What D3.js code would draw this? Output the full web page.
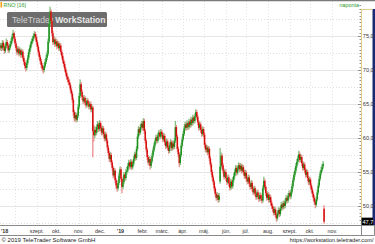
<!DOCTYPE html>
<html>
<head>
<meta charset="utf-8">
<script src="https://cdn.jsdelivr.net/npm/d3@7"></script>
<style>
	body { margin: 0; background: #fff; }
	svg { display: block; font-family: "Liberation Sans", Arial, sans-serif; }
</style>
</head>
<body>
<div id="graph"></div>
<script>
// RNO daily candles (one value per trading day)
var firstDay = "2018-07-11";

var opens = [
	73.3,73.6,73.2,74.0,73.4,72.8,73.5,74.1,73.6,72.9, 73.3,73.8,74.3,74.9,75.4,74.6,73.9,73.2,72.6,73.1,
	72.4,72.9,72.2,72.7,71.8,71.2,70.6,70.3,71.0,71.8, 72.6,73.2,73.8,74.2,74.6,75.0,75.3,74.8,74.1,73.4,
	72.6,71.9,71.3,70.7,70.2,70.0,70.6,71.2,71.8,72.4, 74.2,76.8,78.6,77.2,75.4,74.1,74.5,73.8,74.2,73.5,
	73.9,73.2,73.6,72.7,72.1,71.4,70.9,70.2,69.6,69.0, 68.6,68.2,67.8,67.1,66.5,65.6,63.8,62.9,63.4,62.7,
	63.3,64.6,66.2,67.9,66.8,66.0,65.4,65.9,65.2,64.8, 65.5,65.1,64.6,65.0,64.2,64.5,61.0,60.4,61.2,60.8,
	61.6,62.0,61.3,62.2,61.5,60.8,61.4,60.6,59.9,60.5, 59.6,58.6,57.8,56.9,57.5,56.4,55.6,54.5,55.2,53.8,
	53.0,52.6,53.4,54.5,55.4,54.0,52.8,53.5,54.6,54.1, 55.0,55.2,55.9,56.4,55.8,56.5,55.7,56.2,56.9,57.6,
	57.1,58.4,60.2,61.3,60.8,61.6,62.1,61.5,62.5,61.0, 59.6,58.3,57.2,56.4,56.9,55.9,56.6,57.4,58.2,58.9,
	59.5,60.1,59.6,60.4,60.8,60.2,60.9,60.5,59.8,60.3, 59.4,58.8,59.5,58.6,58.1,58.9,59.4,58.5,59.2,58.7,
	59.6,61.6,60.2,58.4,57.6,56.3,57.5,58.9,59.8,60.6, 61.4,62.0,61.5,62.2,61.6,62.4,61.9,62.7,62.2,63.0,
	62.5,63.2,63.8,63.1,62.3,61.5,62.0,61.2,60.6,61.3, 60.5,59.0,58.3,58.6,57.9,58.4,57.0,56.1,55.0,54.2,
	53.5,52.6,51.8,51.2,51.6,50.9,53.6,55.8,57.4,56.0, 55.2,54.3,55.0,54.1,53.5,54.2,53.3,52.7,53.6,52.9,
	53.8,54.4,55.0,55.6,54.9,55.5,56.0,55.4,55.9,55.2, 55.7,55.0,54.4,54.9,54.0,53.6,54.2,53.3,52.8,53.4,
	52.5,52.0,52.6,51.8,51.3,52.0,51.5,51.0,51.6,51.1, 50.8,52.6,53.7,52.8,51.9,51.2,51.7,50.9,51.3,50.5,
	50.0,49.6,49.0,49.5,48.7,48.2,48.9,49.4,48.8,49.6, 50.2,49.8,50.4,50.0,50.7,51.2,50.8,51.5,51.9,51.4,
	52.1,52.9,53.8,54.6,55.2,55.9,56.5,57.0,57.6,56.8, 57.2,56.3,55.6,56.1,55.3,54.6,55.0,54.1,53.5,53.9,
	53.0,52.4,51.8,51.2,50.6,50.2,51.0,52.0,53.0,54.0, 54.8,55.3,55.8,49.6
];
var highs = [
	73.9,73.8,74.3,74.2,73.6,73.8,74.5,74.3,73.8,73.6, 74.1,74.6,75.2,75.8,75.5,74.8,74.1,73.4,73.4,73.3,
	73.2,73.0,73.0,72.9,72.0,71.4,70.9,71.3,72.1,72.9, 73.5,74.1,74.5,74.9,75.3,75.6,75.5,75.0,74.3,73.6,
	72.8,72.1,71.5,70.9,70.5,70.9,71.5,72.1,72.7,74.5, 77.2,79.2,78.8,77.4,75.6,74.9,74.7,74.5,74.4,74.2,
	74.1,73.9,73.8,72.9,72.3,71.6,71.1,70.4,69.8,69.2, 68.9,68.5,68.0,67.3,66.7,65.8,64.0,63.7,63.6,63.6,
	64.9,66.5,68.5,68.1,67.0,66.2,66.2,66.1,65.4,65.8, 65.7,65.3,65.3,65.2,64.8,64.6,61.8,61.6,61.5,61.9,
	62.4,62.2,62.5,62.4,61.7,61.7,61.6,60.8,60.8,60.7, 59.8,58.8,58.0,57.8,57.7,56.6,55.8,55.5,55.4,54.0,
	53.2,53.7,54.8,55.7,55.6,54.2,53.8,54.9,54.8,55.3, 55.6,56.2,56.7,56.6,56.8,56.7,56.5,57.2,57.9,57.8,
	58.7,60.5,61.6,61.5,61.9,62.4,62.3,62.8,62.7,61.2, 59.8,58.5,57.4,57.2,57.1,56.9,57.7,58.5,59.2,59.8,
	60.4,60.3,60.7,61.1,61.0,61.2,61.1,60.7,60.6,60.5, 59.6,59.8,59.7,58.8,59.2,59.7,59.6,59.5,59.4,59.9,
	62.4,61.8,60.4,58.6,57.8,57.8,59.2,60.1,60.9,61.7, 62.3,62.2,62.5,62.4,62.7,62.6,63.0,62.9,63.3,63.2,
	63.5,64.1,64.0,63.3,62.5,62.3,62.2,61.4,61.6,61.5, 60.7,59.2,58.9,58.8,58.7,58.6,57.2,56.3,55.2,54.4,
	53.7,52.8,52.0,51.9,51.8,51.8,58.4,57.8,57.6,56.2, 55.4,55.3,55.2,54.3,54.5,54.4,53.5,53.9,53.8,54.1,
	54.7,55.3,55.9,55.8,55.8,56.3,56.2,56.2,56.1,56.0, 55.9,55.2,55.2,55.1,54.2,54.5,54.4,53.5,53.7,53.6,
	52.7,52.9,52.8,52.0,52.3,52.2,51.7,51.9,51.8,51.3, 52.9,54.2,53.9,53.0,52.1,52.0,51.9,51.6,51.5,50.7,
	50.2,49.8,49.8,49.7,48.9,49.2,49.7,49.6,49.9,50.5, 50.4,50.7,50.6,51.0,51.5,51.4,51.8,52.2,52.1,52.4,
	53.2,54.1,54.9,55.5,56.2,56.8,57.3,58.0,57.8,57.5, 57.4,56.5,56.4,56.3,55.5,55.3,55.2,54.3,54.2,54.1,
	53.2,52.6,52.0,51.4,50.8,51.3,52.3,53.3,54.3,55.1, 55.6,56.1,56.5,50.0
];
var lows = [
	73.0,72.9,73.0,73.1,72.5,72.6,73.3,73.3,72.6,72.7, 73.1,73.6,74.0,74.7,74.3,73.6,72.9,72.3,72.4,72.1,
	72.2,71.9,72.0,71.5,70.9,70.3,69.9,70.1,70.8,71.6, 72.4,73.0,73.6,74.0,74.4,74.8,74.5,73.8,73.1,72.3,
	71.6,71.0,70.4,69.9,69.6,69.8,70.4,71.0,71.6,72.2, 74.0,76.5,76.9,75.1,73.8,73.9,73.5,73.6,73.2,73.3,
	72.9,73.0,72.4,71.8,71.1,70.6,69.9,69.3,68.7,68.3, 67.9,67.5,66.8,66.2,65.3,63.4,62.5,62.6,62.4,62.5,
	63.1,64.4,66.0,66.5,65.7,65.1,65.2,64.9,64.5,64.6, 64.8,64.3,64.4,63.9,63.9,57.3,59.6,60.1,60.4,60.6,
	61.3,61.0,61.1,61.2,60.5,60.6,60.3,59.6,59.7,59.3, 58.3,57.5,56.6,56.7,56.1,55.3,54.2,54.3,53.5,52.6,
	52.2,52.4,53.2,54.3,53.7,52.0,52.6,53.3,53.8,53.9, 54.7,55.0,55.7,55.5,55.6,55.4,55.5,56.0,56.7,56.8,
	56.9,58.2,60.0,60.5,60.6,61.4,61.2,61.3,60.7,59.3, 58.0,56.9,56.1,56.1,55.5,55.7,56.4,57.2,58.0,58.7,
	59.3,59.3,59.4,60.2,59.9,60.0,60.2,59.5,59.6,59.1, 58.5,58.6,58.3,57.8,57.9,58.7,58.2,58.3,58.4,58.5,
	59.4,59.9,58.1,57.3,55.8,56.1,57.3,58.7,59.6,60.4, 61.2,61.2,61.3,61.3,61.4,61.6,61.7,61.9,62.0,62.2,
	62.3,63.0,62.8,62.0,61.2,61.3,60.9,60.3,60.4,60.2, 58.7,58.0,58.0,57.6,57.7,56.7,55.8,54.7,53.9,53.2,
	52.3,51.5,50.9,51.0,50.6,50.7,53.4,55.5,55.7,54.9, 54.0,54.1,53.8,53.2,53.3,53.0,52.4,52.5,52.6,52.7,
	53.6,54.2,54.8,54.6,54.7,55.3,55.1,55.2,54.9,55.0, 54.7,54.1,54.2,53.7,53.3,53.4,53.0,52.5,52.6,52.2,
	51.7,51.8,51.5,51.0,51.1,51.2,50.7,50.8,50.8,50.5, 50.6,52.4,52.5,51.6,50.9,51.0,50.6,50.7,50.2,49.7,
	49.3,48.7,48.8,48.4,47.8,48.0,48.7,48.5,48.6,49.4, 49.5,49.6,49.7,49.8,50.5,50.5,50.6,51.3,51.1,51.2,
	51.9,52.7,53.6,54.4,55.0,55.7,56.3,56.8,56.5,56.6, 56.0,55.3,55.4,55.0,54.3,54.4,53.8,53.2,53.3,52.7,
	52.1,51.5,50.9,50.3,49.8,50.0,50.8,51.8,52.8,53.8, 54.6,55.1,55.6,47.5
];
var closes = [
	73.6,73.2,74.0,73.4,72.8,73.5,74.1,73.6,72.9,73.3, 73.8,74.3,74.9,75.4,74.6,73.9,73.2,72.6,73.1,72.4,
	72.9,72.2,72.7,71.8,71.2,70.6,70.3,71.0,71.8,72.6, 73.2,73.8,74.2,74.6,75.0,75.3,74.8,74.1,73.4,72.6,
	71.9,71.3,70.7,70.2,70.0,70.6,71.2,71.8,72.4,74.2, 76.8,78.6,77.2,75.4,74.1,74.5,73.8,74.2,73.5,73.9,
	73.2,73.6,72.7,72.1,71.4,70.9,70.2,69.6,69.0,68.6, 68.2,67.8,67.1,66.5,65.6,63.8,62.9,63.4,62.7,63.3,
	64.6,66.2,67.9,66.8,66.0,65.4,65.9,65.2,64.8,65.5, 65.1,64.6,65.0,64.2,64.5,61.0,60.4,61.2,60.8,61.6,
	62.0,61.3,62.2,61.5,60.8,61.4,60.6,59.9,60.5,59.6, 58.6,57.8,56.9,57.5,56.4,55.6,54.5,55.2,53.8,53.0,
	52.6,53.4,54.5,55.4,54.0,52.8,53.5,54.6,54.1,55.0, 55.2,55.9,56.4,55.8,56.5,55.7,56.2,56.9,57.6,57.1,
	58.4,60.2,61.3,60.8,61.6,62.1,61.5,62.5,61.0,59.6, 58.3,57.2,56.4,56.9,55.9,56.6,57.4,58.2,58.9,59.5,
	60.1,59.6,60.4,60.8,60.2,60.9,60.5,59.8,60.3,59.4, 58.8,59.5,58.6,58.1,58.9,59.4,58.5,59.2,58.7,59.6,
	61.6,60.2,58.4,57.6,56.3,57.5,58.9,59.8,60.6,61.4, 62.0,61.5,62.2,61.6,62.4,61.9,62.7,62.2,63.0,62.5,
	63.2,63.8,63.1,62.3,61.5,62.0,61.2,60.6,61.3,60.5, 59.0,58.3,58.6,57.9,58.4,57.0,56.1,55.0,54.2,53.5,
	52.6,51.8,51.2,51.6,50.9,51.5,55.8,57.4,56.0,55.2, 54.3,55.0,54.1,53.5,54.2,53.3,52.7,53.6,52.9,53.8,
	54.4,55.0,55.6,54.9,55.5,56.0,55.4,55.9,55.2,55.7, 55.0,54.4,54.9,54.0,53.6,54.2,53.3,52.8,53.4,52.5,
	52.0,52.6,51.8,51.3,52.0,51.5,51.0,51.6,51.1,50.8, 52.6,53.7,52.8,51.9,51.2,51.7,50.9,51.3,50.5,50.0,
	49.6,49.0,49.5,48.7,48.2,48.9,49.4,48.8,49.6,50.2, 49.8,50.4,50.0,50.7,51.2,50.8,51.5,51.9,51.4,52.1,
	52.9,53.8,54.6,55.2,55.9,56.5,57.0,57.6,56.8,57.2, 56.3,55.6,56.1,55.3,54.6,55.0,54.1,53.5,53.9,53.0,
	52.4,51.8,51.2,50.6,50.2,51.0,52.0,53.0,54.0,54.8, 55.3,55.8,56.2,47.7
];

// axis labels
var monthLabels = ["'18", "szept.", "okt.", "nov.", "dec.", "'19", "febr.", "márc.", "ápr.", "máj.", "jún.", "júl.", "aug.", "szept.", "okt.", "nov."];
var yTicks = [50, 55, 60, 65, 70, 75];
var yTickLabels = ["50,0", "55,0", "60,0", "65,0", "70,0", "75,0"];
var lastLabel = "47,7";

(function() {
	var graph = {
		svg: null,
		width: 375,
		height: 244,
		left: 0,
		right: 361,
		top: 1,
		bottom: 225,
		slots: 371,        // trading days that fit across the plot
		xScale: null,
		yScale: null,
		up: "#1c8f1c",
		upWick: "#7fc27f",
		down: "#d60c0c",
		downWick: "#ee8c8c"
	};

	// weekdays starting at firstDay, one per candle slot
	var _tradingDays = function(n) {
		var days = [], d = new Date(firstDay + "T12:00:00");
		while (days.length < n) {
			var wd = d.getDay();
			if (wd !== 0 && wd !== 6) days.push(new Date(d));
			d.setDate(d.getDate() + 1);
		}
		return days;
	};

	var _initPhase = function() {
		graph.xScale = d3.scaleLinear()
			.domain([-0.5, graph.slots])
			.range([graph.left, graph.right]);
		graph.yScale = d3.scaleLinear()
			.domain([47.206, 80.147])
			.range([graph.bottom, graph.top]);

		graph.svg = d3.select("#graph").append("svg")
			.attr("width", graph.width)
			.attr("height", graph.height);
	};

	var _drawGrid = function(monthStarts) {
		var svg = graph.svg, y = graph.yScale, x = graph.xScale;
		var g = svg.append("g");

		// dotted half-step lines
		g.selectAll("line.minor").data(d3.range(47.5, 80, 5)).enter()
			.append("line")
			.attr("x1", graph.left).attr("x2", graph.right)
			.attr("y1", function(d) { return Math.round(y(d)) + 0.5; })
			.attr("y2", function(d) { return Math.round(y(d)) + 0.5; })
			.attr("stroke", "#dedede").attr("stroke-dasharray", "1,2");

		g.selectAll("line.major").data(yTicks).enter()
			.append("line")
			.attr("x1", graph.left).attr("x2", graph.right)
			.attr("y1", function(d) { return Math.round(y(d)) + 0.5; })
			.attr("y2", function(d) { return Math.round(y(d)) + 0.5; })
			.attr("stroke", "#e6e6e6");

		g.selectAll("line.vgrid").data(monthStarts).enter()
			.append("line")
			.attr("x1", function(d) { return Math.round(x(d - 0.5)) + 0.5; })
			.attr("x2", function(d) { return Math.round(x(d - 0.5)) + 0.5; })
			.attr("y1", graph.top).attr("y2", graph.bottom)
			.attr("stroke", "#e4e4e4").attr("stroke-dasharray", "1,2");
	};

	var _drawWatermark = function() {
		var g = graph.svg.append("g");
		g.append("rect")
			.attr("x", 7).attr("y", 12).attr("width", 100).attr("height", 15)
			.attr("rx", 1.5).attr("fill", "#6d6d6d");
		var t = g.append("text")
			.attr("x", 12).attr("y", 23)
			.attr("font-size", 8.6).attr("fill", "#d2d2d2");
		t.append("tspan").text("TeleTrader ");
		t.append("tspan").attr("font-weight", "bold").attr("fill", "#e8e8e8").text("WorkStation");
	};

	var _drawCandles = function() {
		var x = graph.xScale, y = graph.yScale;
		var data = closes.map(function(c, i) {
			return { i: i, o: opens[i], h: highs[i], l: lows[i], c: c };
		});
		var g = graph.svg.append("g");

		g.selectAll("line.wick").data(data).enter()
			.append("line")
			.attr("x1", function(d) { return x(d.i); })
			.attr("x2", function(d) { return x(d.i); })
			.attr("y1", function(d) { return y(d.h) - 0.8; })
			.attr("y2", function(d) { return y(d.l) + 0.8; })
			.attr("stroke-width", 1.3)
			.attr("stroke", function(d) { return d.c >= d.o ? graph.upWick : graph.downWick; });

		g.selectAll("rect.body").data(data).enter()
			.append("rect")
			.attr("x", function(d) { return x(d.i) - 0.75; })
			.attr("width", 1.5)
			.attr("y", function(d) { return y(Math.max(d.o, d.c)); })
			.attr("height", function(d) { return Math.max(1, Math.abs(y(d.o) - y(d.c))); })
			.attr("fill", function(d) { return d.c >= d.o ? graph.up : graph.down; });
	};

	var _drawAxes = function(monthStarts) {
		var svg = graph.svg, x = graph.xScale, y = graph.yScale;

		// frame
		svg.append("line").attr("x1", 0).attr("x2", graph.width).attr("y1", 0.5).attr("y2", 0.5)
			.attr("stroke", "#7a7a7a").attr("stroke-width", 1.5);

		// right price panel
		svg.append("rect").attr("x", 372.5).attr("y", 9).attr("width", 2.5).attr("height", graph.bottom - 9)
			.attr("fill", "#1b2a72");
		svg.append("line").attr("x1", graph.right + 0.5).attr("x2", graph.right + 0.5)
			.attr("y1", 9).attr("y2", graph.bottom)
			.attr("stroke", "#e2cd86");
		svg.append("line").attr("x1", graph.right).attr("x2", 372.5).attr("y1", 9.5).attr("y2", 9.5)
			.attr("stroke", "#e2cd86");

		var ticks = d3.range(48, 80, 0.5);
		svg.append("g").selectAll("line").data(ticks).enter()
			.append("line")
			.attr("x1", function(d) { return d % 5 === 0 ? graph.right - 3 : graph.right - 1.5; })
			.attr("x2", graph.right)
			.attr("y1", function(d) { return Math.round(y(d)) + 0.5; })
			.attr("y2", function(d) { return Math.round(y(d)) + 0.5; })
			.attr("stroke", "#777").attr("stroke-width", 0.8);

		svg.append("g").selectAll("text").data(yTicks).enter()
			.append("text")
			.attr("x", graph.right + 1.8)
			.attr("y", function(d) { return y(d) + 2; })
			.attr("font-size", 5.6).attr("fill", "#333")
			.text(function(d, i) { return yTickLabels[i]; });

		// last price tag
		var ly = y(closes[closes.length - 1]);
		svg.append("rect").attr("x", graph.right + 0.5).attr("y", ly - 4).attr("width", 11.5).attr("height", 8)
			.attr("fill", "#000");
		svg.append("text").attr("x", graph.right + 1.5).attr("y", ly + 2)
			.attr("font-size", 5.6).attr("fill", "#fff").text(lastLabel);

		// time band
		svg.append("line").attr("x1", 0).attr("x2", 374.5).attr("y1", graph.bottom + 0.5).attr("y2", graph.bottom + 0.5)
			.attr("stroke", "#8a8a8a");
		svg.append("line").attr("x1", 0).attr("x2", 374.5).attr("y1", 235.5).attr("y2", 235.5)
			.attr("stroke", "#8a8a8a");
		svg.append("line").attr("x1", graph.right + 0.5).attr("x2", graph.right + 0.5).attr("y1", graph.bottom).attr("y2", 235.5)
			.attr("stroke", "#8a8a8a");
		svg.append("line").attr("x1", 374.5).attr("x2", 374.5).attr("y1", graph.bottom).attr("y2", 235.5)
			.attr("stroke", "#8a8a8a");

		svg.append("g").selectAll("text").data(monthStarts.slice(0, monthLabels.length)).enter()
			.append("text")
			.attr("x", function(d, i) { return i === 0 ? 1 : x(d - 0.5); })
			.attr("y", 232.6)
			.attr("text-anchor", function(d, i) { return i === 0 ? "start" : "middle"; })
			.attr("font-size", 5.4)
			.attr("font-weight", function(d, i) { return monthLabels[i].charAt(0) === "'" ? "bold" : "normal"; })
			.attr("fill", "#333")
			.text(function(d, i) { return monthLabels[i]; });

		// captions
		svg.append("rect").attr("x", 0.5).attr("y", 2).attr("width", 1.6).attr("height", 5.5).attr("fill", "#f0a010");
		svg.append("text").attr("x", 3.5).attr("y", 7.3).attr("font-size", 5.4).attr("fill", "#2e9a2e").text("RNO [16]");
		svg.append("text").attr("x", 359).attr("y", 7.3).attr("text-anchor", "end")
			.attr("font-size", 5.4).attr("fill", "#2e9a2e").text("naponta");

		svg.append("text").attr("x", 1.5).attr("y", 242.3).attr("font-size", 6).attr("fill", "#222")
			.text("© 2019 TeleTrader Software GmbH");
		svg.append("text").attr("x", 373.5).attr("y", 242.3).attr("text-anchor", "end")
			.attr("font-size", 5.6).attr("fill", "#222")
			.text("https://workstation.teletrader.com/");
	};

	var _render = function() {
		var days = _tradingDays(graph.slots + 1);
		var monthStarts = [];
		for (var i = 1; i < days.length; i++) {
			if (days[i].getMonth() !== days[i - 1].getMonth()) monthStarts.push(i);
		}
		_initPhase();
		_drawGrid(monthStarts.slice(0, monthLabels.length));
		_drawWatermark();
		_drawCandles();
		_drawAxes(monthStarts);
	};

	_render();
})();
</script>
</body>
</html>
